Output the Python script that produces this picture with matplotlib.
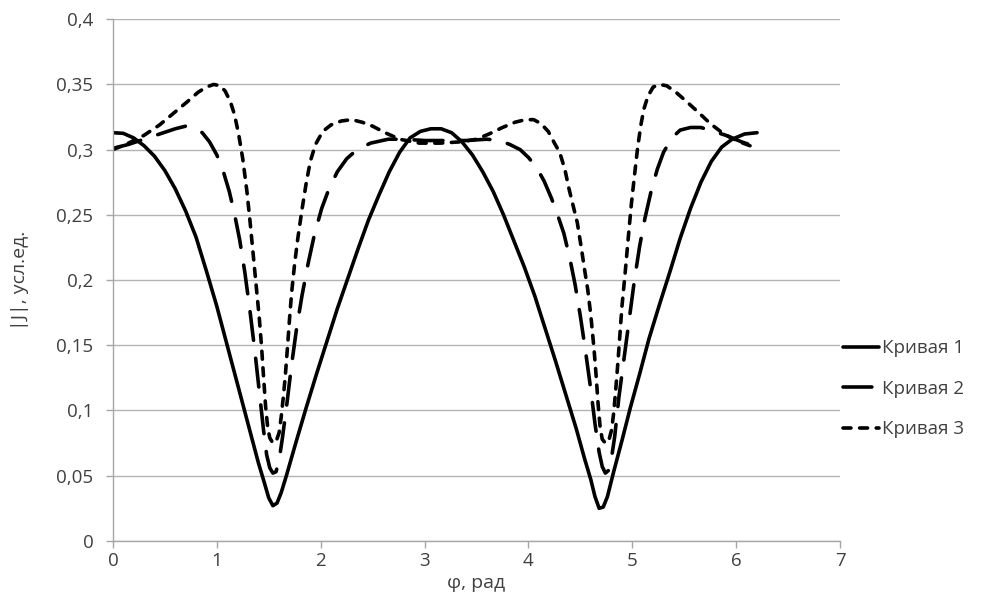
import matplotlib
matplotlib.use('Agg')

import matplotlib.pyplot as plt

# curve 1 (solid)
x1 = [0.00, 0.10, 0.20, 0.30, 0.40, 0.50, 0.60, 0.70, 0.80, 0.90, 1.00, 1.10, 1.20, 1.30,
      1.40, 1.46, 1.50, 1.54, 1.58, 1.62, 1.67, 1.76, 1.86, 1.96, 2.06, 2.16, 2.26, 2.36,
      2.46, 2.56, 2.66, 2.76, 2.86, 2.96, 3.06, 3.16, 3.26, 3.36, 3.46, 3.56, 3.66, 3.76,
      3.86, 3.96, 4.06, 4.16, 4.26, 4.36, 4.46, 4.54, 4.60, 4.64, 4.68, 4.72, 4.76, 4.82,
      4.90, 4.98, 5.07, 5.16, 5.26, 5.36, 5.46, 5.56, 5.66, 5.76, 5.86, 5.96, 6.08, 6.20]
y1 = [0.313, 0.3125, 0.309, 0.303, 0.295, 0.284, 0.270, 0.253, 0.233, 0.207, 0.180, 0.150,
      0.120, 0.090, 0.060, 0.044, 0.033, 0.027, 0.029, 0.037, 0.050, 0.075, 0.102, 0.128,
      0.153, 0.178, 0.201, 0.224, 0.246, 0.265, 0.283, 0.298, 0.309, 0.314, 0.316, 0.316,
      0.313, 0.306, 0.296, 0.283, 0.268, 0.250, 0.230, 0.210, 0.188, 0.163, 0.138, 0.112,
      0.086, 0.063, 0.047, 0.034, 0.025, 0.026, 0.034, 0.053, 0.077, 0.102, 0.128, 0.155,
      0.181, 0.206, 0.232, 0.255, 0.275, 0.291, 0.302, 0.308, 0.312, 0.313]

# curve 2 (long dash)
x2 = [0.00, 0.15, 0.30, 0.45, 0.60, 0.70, 0.78, 0.86, 0.93, 1.00, 1.06, 1.12, 1.17, 1.22,
      1.27, 1.32, 1.37, 1.41, 1.45, 1.48, 1.51, 1.54, 1.57, 1.60, 1.63, 1.67, 1.72, 1.77,
      1.82, 1.88, 1.94, 2.01, 2.08, 2.16, 2.25, 2.35, 2.48, 2.65, 2.80, 3.00, 3.20, 3.40,
      3.60, 3.72, 3.82, 3.92, 4.00, 4.08, 4.15, 4.22, 4.28, 4.34, 4.40, 4.45, 4.50, 4.55,
      4.60, 4.64, 4.68, 4.71, 4.74, 4.77, 4.80, 4.83, 4.87, 4.92, 4.97, 5.02, 5.07, 5.12,
      5.18, 5.24, 5.30, 5.38, 5.46, 5.56, 5.66, 5.78, 5.90, 6.05, 6.20]
y2 = [0.301, 0.304, 0.308, 0.312, 0.316, 0.318, 0.317, 0.313, 0.306, 0.296, 0.284, 0.268,
      0.251, 0.231, 0.206, 0.176, 0.143, 0.114, 0.085, 0.066, 0.056, 0.052, 0.053, 0.062,
      0.078, 0.102, 0.135, 0.164, 0.188, 0.213, 0.235, 0.255, 0.270, 0.283, 0.293, 0.300,
      0.305, 0.308, 0.308, 0.307, 0.307, 0.307, 0.308, 0.307, 0.304, 0.300, 0.294, 0.286,
      0.276, 0.263, 0.250, 0.236, 0.216, 0.196, 0.172, 0.145, 0.116, 0.090, 0.068, 0.057,
      0.052, 0.054, 0.064, 0.080, 0.110, 0.140, 0.170, 0.200, 0.226, 0.247, 0.268, 0.285,
      0.298, 0.309, 0.315, 0.317, 0.317, 0.314, 0.311, 0.306, 0.302]

# curve 3 (short dash)
x3 = [0.00, 0.15, 0.30, 0.45, 0.60, 0.72, 0.82, 0.90, 0.97, 1.03, 1.08, 1.13, 1.17, 1.21,
      1.25, 1.29, 1.32, 1.35, 1.38, 1.41, 1.43, 1.45, 1.47, 1.49, 1.51, 1.54, 1.57, 1.60,
      1.62, 1.64, 1.66, 1.68, 1.70, 1.72, 1.75, 1.78, 1.82, 1.86, 1.90, 1.95, 2.02, 2.10,
      2.20, 2.30, 2.40, 2.50, 2.62, 2.76, 2.95, 3.15, 3.35, 3.50, 3.62, 3.75, 3.87, 3.97,
      4.05, 4.12, 4.19, 4.25, 4.30, 4.35, 4.39, 4.43, 4.47, 4.51, 4.54, 4.57, 4.60, 4.63,
      4.65, 4.67, 4.69, 4.71, 4.74, 4.77, 4.80, 4.82, 4.84, 4.86, 4.88, 4.90, 4.93, 4.96,
      4.99, 5.02, 5.05, 5.08, 5.11, 5.15, 5.20, 5.26, 5.33, 5.42, 5.52, 5.63, 5.75, 5.88,
      6.03, 6.20]
y3 = [0.300, 0.305, 0.311, 0.319, 0.329, 0.337, 0.344, 0.348, 0.350, 0.349, 0.345, 0.337,
      0.327, 0.312, 0.293, 0.268, 0.245, 0.220, 0.195, 0.170, 0.150, 0.126, 0.103, 0.087,
      0.079, 0.075, 0.076, 0.083, 0.095, 0.110, 0.127, 0.148, 0.170, 0.190, 0.213, 0.232,
      0.254, 0.274, 0.291, 0.304, 0.314, 0.319, 0.322, 0.323, 0.321, 0.318, 0.313, 0.308,
      0.305, 0.305, 0.306, 0.308, 0.312, 0.317, 0.321, 0.323, 0.323, 0.320, 0.314, 0.305,
      0.298, 0.285, 0.270, 0.257, 0.244, 0.224, 0.208, 0.193, 0.173, 0.148, 0.128, 0.105,
      0.087, 0.078, 0.075, 0.076, 0.085, 0.098, 0.116, 0.136, 0.158, 0.180, 0.205, 0.232,
      0.258, 0.280, 0.301, 0.318, 0.331, 0.341, 0.348, 0.350, 0.349, 0.344, 0.337, 0.329,
      0.320, 0.312, 0.306, 0.301]

labels = ["Кривая 1", "Кривая 2", "Кривая 3"]
x_ticks = [0, 1, 2, 3, 4, 5, 6, 7]
y_ticks = [0, 0.05, 0.1, 0.15, 0.2, 0.25, 0.3, 0.35, 0.4]

plt.rcParams['font.family'] = ['Open Sans', 'DejaVu Sans']

fig = plt.figure(figsize=(9.99, 6.01), dpi=100)
ax = fig.add_axes([0.113, 0.1, 0.728, 0.868])

lw = 2.6
ax.plot(x1, y1, color='black', lw=lw, label=labels[0], solid_capstyle='round')
ax.plot(x2, y2, color='black', lw=lw, label=labels[1], dashes=(8, 5), dash_capstyle='round')
ax.plot(x3, y3, color='black', lw=lw, label=labels[2], dashes=(2.2, 2.4), dash_capstyle='round')

ax.set_xlim(0, 7)
ax.set_ylim(0, 0.4)
ax.set_xticks(x_ticks)
ax.set_yticks(y_ticks)
ax.set_xticklabels([str(v) for v in x_ticks])
ax.set_yticklabels([('%g' % v).replace('.', ',') for v in y_ticks])

ax.grid(axis='y', color='#b3b3b3', lw=1)
ax.set_axisbelow(True)
for s in ['top', 'right']:
    ax.spines[s].set_visible(False)
for s in ['left', 'bottom']:
    ax.spines[s].set_color('#a6a6a6')
    ax.spines[s].set_linewidth(1)
ax.tick_params(colors='#a6a6a6', length=5, width=1, labelsize=13.5, labelcolor='#404040')
ax.tick_params(axis='y', pad=9)
ax.tick_params(axis='x', pad=3)

ax.set_xlabel("φ, рад", fontsize=14, color='#404040', labelpad=3)
ax.set_ylabel("|J|, усл.ед.", fontsize=14, color='#404040', labelpad=20)

fig.legend(loc='center left', bbox_to_anchor=(0.827, 0.353), frameon=False,
           fontsize=13.5, handlelength=1.9, handletextpad=0.2, labelspacing=1.2,
           labelcolor='#404040')

fig.savefig('out.png', dpi=100)
